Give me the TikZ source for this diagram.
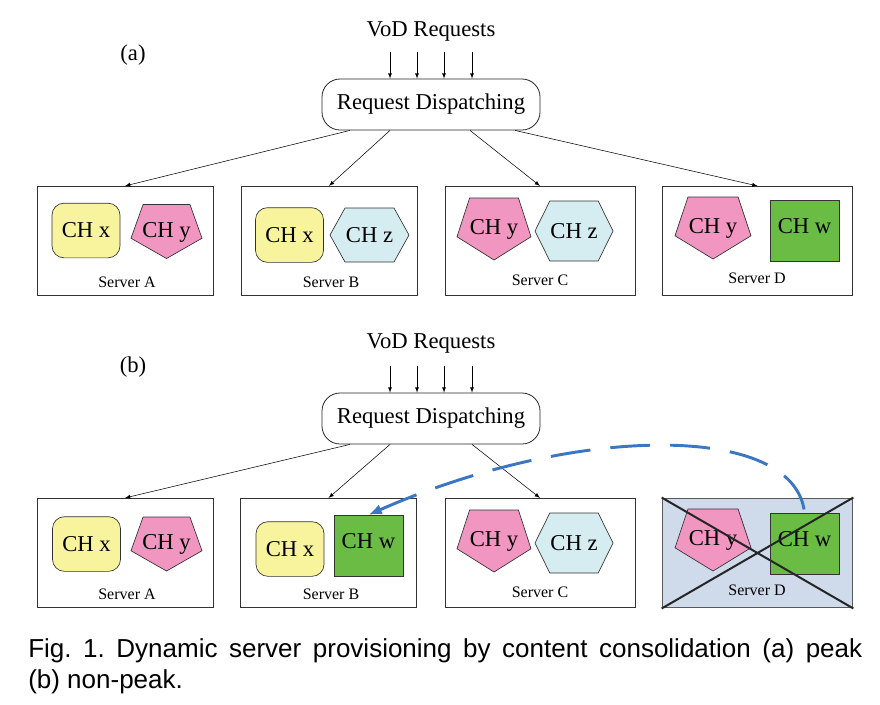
\documentclass[tikz,border=0pt]{standalone}
\usepackage{fontspec}
\setmainfont{Liberation Serif}
\newfontfamily\capfont{Liberation Sans}
\usetikzlibrary{arrows}
\usetikzlibrary{arrows.meta}
\definecolor{chyellow}{RGB}{248,244,158}
\definecolor{chpink}{RGB}{241,150,192}
\definecolor{chblue}{RGB}{213,236,241}
\definecolor{chgreen}{RGB}{106,188,69}
\definecolor{offblue}{RGB}{207,218,235}
\definecolor{movblue}{RGB}{58,118,194}

\begin{document}
\begin{tikzpicture}[x=0.75pt,y=0.75pt,yscale=-1,xscale=1,
  big/.style={inner sep=0.75pt,font=\fontsize{17}{20}\selectfont},
  small/.style={inner sep=0.75pt,font=\fontsize{12}{14}\selectfont},
  disp/.style={big,draw=black!85,line width=0.6pt,rounded corners=13.5pt,minimum width=163.5pt,minimum height=38.25pt},
  server/.style={draw=black!80,line width=0.6pt,minimum height=82pt,minimum width=132pt,inner sep=0pt},
  wserver/.style={server,minimum width=142.5pt},
  chx/.style={big,draw=black!80,line width=0.5pt,fill=chyellow,rounded corners=9pt,minimum width=51pt,minimum height=41pt},
  chw/.style={big,draw=black!80,line width=0.5pt,fill=chgreen,minimum width=51.75pt,minimum height=45.5pt,text depth=7pt},
  pentfill/.style={draw=black!80,line width=0.5pt,fill=chpink},
  hexfill/.style={draw=black!80,line width=0.5pt,fill=chblue},
  pent/.pic={\draw[pentfill] (0,-1) -- (1,-0.25) -- (0.66,1) -- (-0.66,1) -- (-1,-0.25) -- cycle;},
  hexa/.pic={\draw[hexfill] (-1,0) -- (-0.62,-1) -- (0.62,-1) -- (1,0) -- (0.62,1) -- (-0.62,1) -- cycle;},
  offcross/.style={line width=1.5pt,black!85},
  move/.style={draw=movblue,line width=2.2pt,dash pattern=on 30pt off 15pt,{Latex[length=10pt,width=8pt]}-}
]
\useasboundingbox (0,0) rectangle (880,704);

% (a) peak
\node[big] (lblA) at (133,55) {(a)};
\node[big] (vodA) at (431,31) {VoD Requests};
\node[disp] (dispA) at (431,104.5) {Request Dispatching};
\foreach \dx in {-41,-14,13,41}
  \draw[-latex] ([shift={(\dx,-27)}]dispA.north) -- ([shift={(\dx,0)}]dispA.north);

\node[server] (srvAa) at (125,241) {};
\node[server] (srvBa) at (329,241) {};
\node[wserver] (srvCa) at (540,241) {};
\node[wserver] (srvDa) at (757.5,241) {};

\draw[-latex] ([shift={(-81,0)}]dispA.south) -- (srvAa.north);
\draw[-latex] ([shift={(-41,0)}]dispA.south) -- (srvBa.north);
\draw[-latex] ([shift={(39,0)}]dispA.south) -- (srvCa.north);
\draw[-latex] ([shift={(84,0)}]dispA.south) -- (srvDa.north);

\node[chx] (xAa) at (86,230.5) {CH x};
\pic[xscale=35.5,yscale=27] at (166.5,231.5) {pent};
\node[big] (yAa) at (166.5,232) {CH y};

\node[chx] (xBa) at (289.5,235) {CH x};
\pic[xscale=39.5,yscale=27] at (369.5,235) {hexa};
\node[big] (zBa) at (369.5,235) {CH z};

\pic[xscale=37,yscale=31] at (494,229) {pent};
\node[big] (yCa) at (494,229.5) {CH y};
\pic[xscale=39,yscale=30] at (574,231) {hexa};
\node[big] (zCa) at (574,231) {CH z};

\pic[xscale=38,yscale=31] at (713,228) {pent};
\node[big] (yDa) at (713,228.5) {CH y};
\node[chw] (wDa) at (804.5,231) {CH w};

\node[small] (labAa) at (127,282) {Server A};
\node[small] (labBa) at (331,282) {Server B};
\node[small] (labCa) at (540,280) {Server C};
\node[small] (labDa) at (757,278) {Server D};

% (b) non-peak
\node[big] (lblB) at (133,367) {(b)};
\node[big] (vodB) at (431,343) {VoD Requests};
\node[disp] (dispB) at (431,418.5) {Request Dispatching};
\foreach \dx in {-41,-14,13,41}
  \draw[-latex] ([shift={(\dx,-27)}]dispB.north) -- ([shift={(\dx,0)}]dispB.north);

\node[server] (srvAb) at (125,553) {};
\node[server] (srvBb) at (328.5,553) {};
\node[wserver] (srvCb) at (540,553) {};
\node[wserver,fill=offblue,draw=black!65,line width=1.2pt] (srvDb) at (757.5,553) {};

\draw[-latex] ([shift={(-81,0)}]dispB.south) -- (srvAb.north);
\draw[-latex] ([shift={(-41,0)}]dispB.south) -- (srvBb.north);
\draw[-latex] ([shift={(41,0)}]dispB.south) -- (srvCb.north);

\node[chx] (xAb) at (86.5,544) {CH x};
\pic[xscale=35.5,yscale=27] at (166.5,544) {pent};
\node[big] (yAb) at (166.5,544.5) {CH y};

\node[chx] (xBb) at (290,549) {CH x};
\node[chw] (wBb) at (368.5,545.5) {CH w};

\pic[xscale=37,yscale=31] at (494,541) {pent};
\node[big] (yCb) at (494,541.5) {CH y};
\pic[xscale=39,yscale=30] at (574,543) {hexa};
\node[big] (zCb) at (574,543) {CH z};

\pic[xscale=38,yscale=31] at (713,540) {pent};
\node[big] (yDb) at (713,540.5) {CH y};
\node[chw] (wDb) at (804.5,543.5) {CH w};

\node[small] (labAb) at (127,594) {Server A};
\node[small] (labBb) at (331,594) {Server B};
\node[small] (labCb) at (540,592) {Server C};
\node[small] (labDb) at (757,590) {Server D};

\draw[offcross] (srvDb.north west) -- (srvDb.south east);
\draw[offcross] (srvDb.north east) -- (srvDb.south west);

% consolidation move
\draw[move] (wBb.north) .. controls (575,424) and (795,422) .. (wDb.north);

% caption
\node[anchor=north west,inner sep=0pt,text width=625.5pt,align=justify,font=\capfont\fontsize{19.5}{23.5}\selectfont] (cap) at (28,638) {\frenchspacing Fig. 1. Dynamic server provisioning by content consolidation (a) peak\linebreak (b) non-peak.};
\end{tikzpicture}
\end{document}
